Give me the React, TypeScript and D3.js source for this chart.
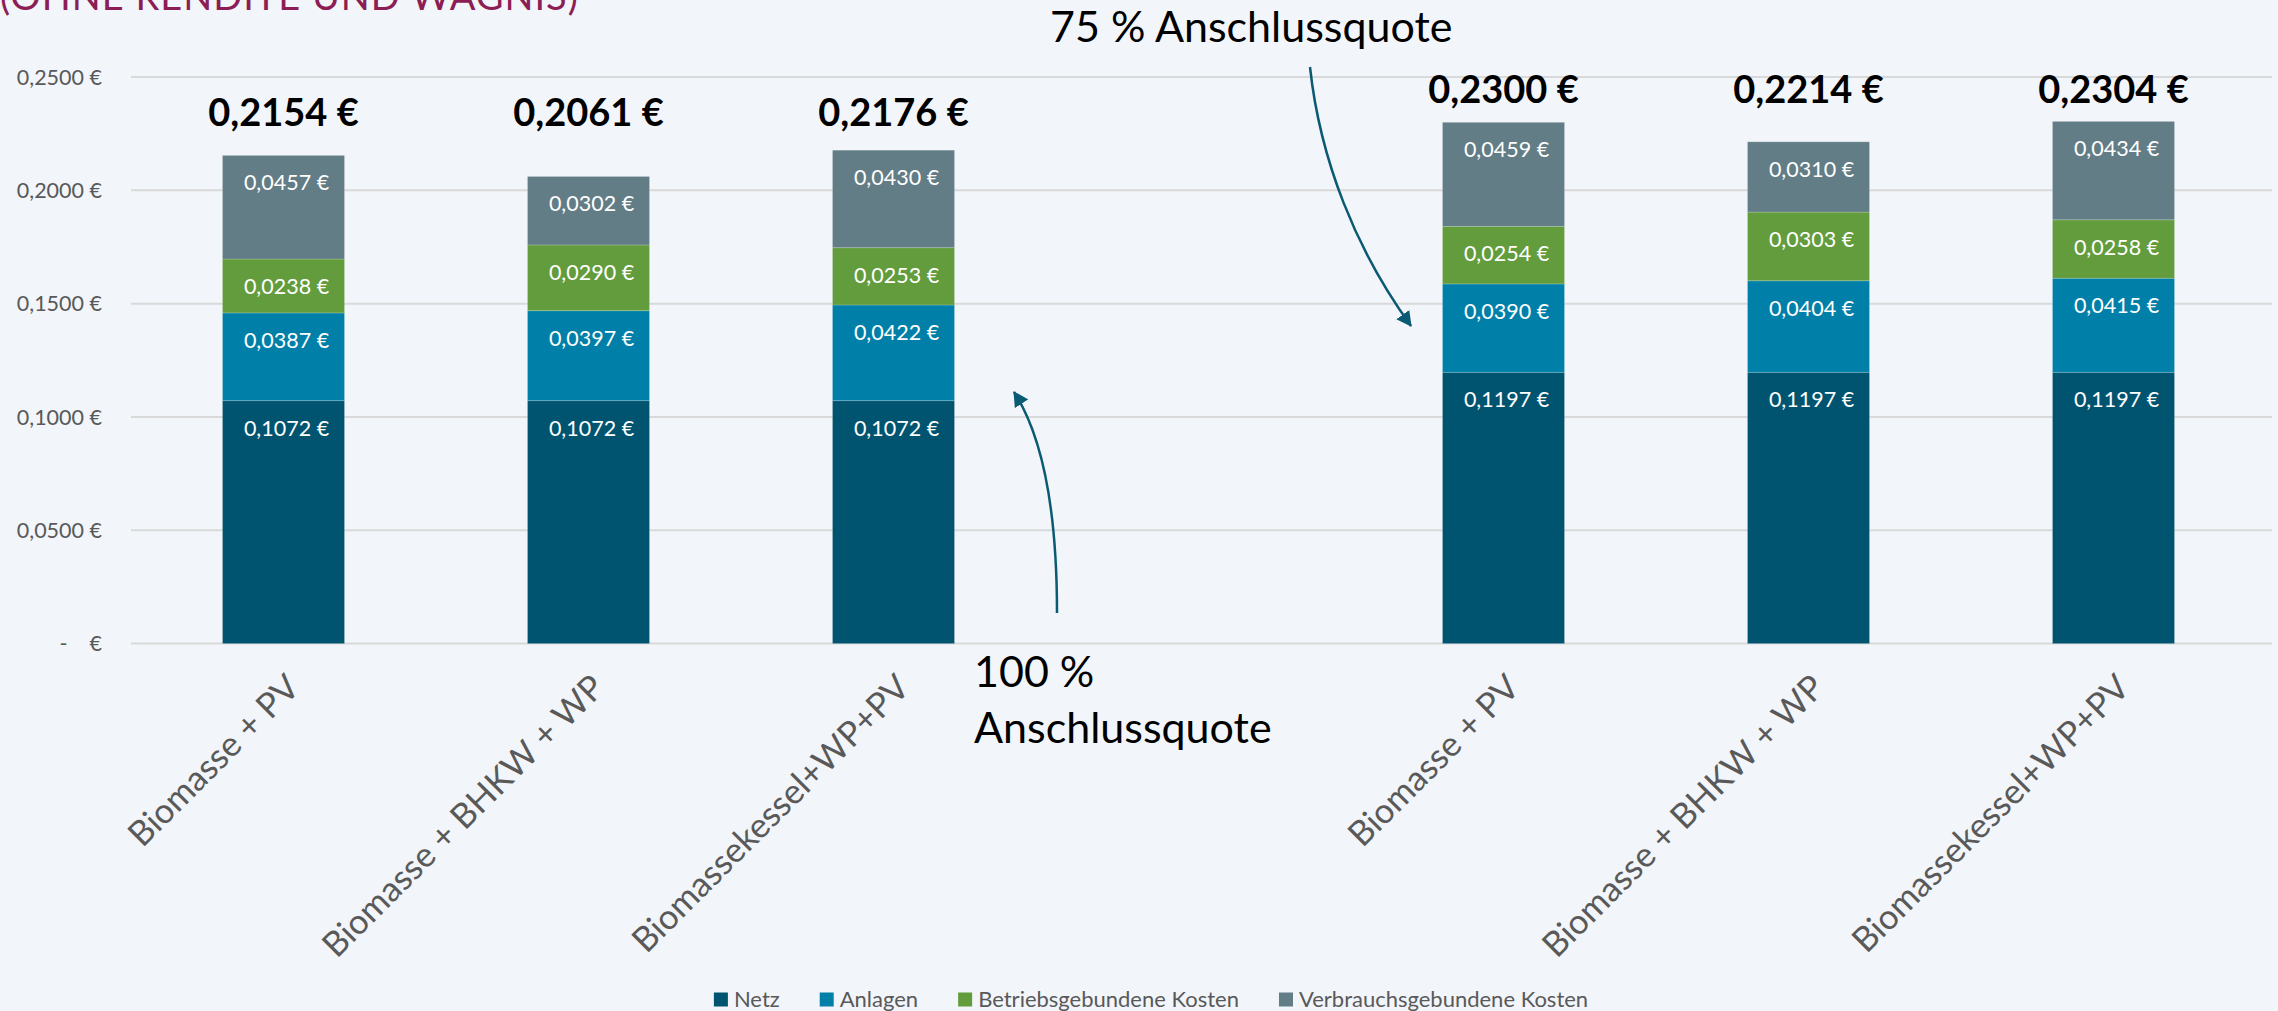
import React, { useEffect, useRef } from "react";
import * as d3 from "d3";

// ---------- data ----------
const categories = [
  "Biomasse + PV",
  "Biomasse + BHKW + WP",
  "Biomassekessel+WP+PV",
  "",
  "Biomasse + PV",
  "Biomasse + BHKW + WP",
  "Biomassekessel+WP+PV",
];
const groupOfCategory = [0, 0, 0, -1, 1, 1, 1];
const netz = [0.1072, 0.1072, 0.1072, 0, 0.1197, 0.1197, 0.1197];
const anlagen = [0.0387, 0.0397, 0.0422, 0, 0.039, 0.0404, 0.0415];
const betrieb = [0.0238, 0.029, 0.0253, 0, 0.0254, 0.0303, 0.0258];
const verbrauch = [0.0457, 0.0302, 0.043, 0, 0.0459, 0.031, 0.0434];
const totals = [0.2154, 0.2061, 0.2176, 0, 0.23, 0.2214, 0.2304];
const seriesNames = ["Netz", "Anlagen", "Betriebsgebundene Kosten", "Verbrauchsgebundene Kosten"];
const seriesColors = ["#00546f", "#0080a8", "#639c3c", "#627d86"];
const yTicks = [0, 0.05, 0.1, 0.15, 0.2, 0.25];
const groupNotes = ["100 %|Anschlussquote", "75 % Anschlussquote"];
const titleText = "(OHNE RENDITE UND WAGNIS)";

const W = 2278;
const H = 1011;
const FONT = "Lato, 'Open Sans', sans-serif";

const fmtEuro = (v: number) =>
  v === 0 ? "-    €" : v.toFixed(4).replace(".", ",") + " €";

export default function App() {
  const ref = useRef<SVGSVGElement>(null);

  useEffect(() => {
    document.body.style.margin = "0";
    document.body.style.overflow = "hidden";
    const svg = d3.select(ref.current);
    svg.selectAll("*").remove();

    svg.append("rect").attr("width", W).attr("height", H).attr("fill", "#f2f5f9");

    const x = d3
      .scaleBand<string>()
      .domain(categories.map((_, i) => String(i)))
      .range([131, 2266])
      .paddingInner(0.6)
      .paddingOuter(0.3);
    const y = d3.scaleLinear().domain([0, 0.25]).range([643.6, 77]);
    const bw = x.bandwidth();

    // title (cut off at top, as in the source slide)
    svg
      .append("text")
      .attr("x", 0)
      .attr("y", 10)
      .attr("font-family", FONT)
      .attr("font-size", 38)
      .attr("letter-spacing", 1)
      .attr("fill", "#8c1d55")
      .text(titleText);

    // grid
    const grid = svg.append("g");
    grid
      .selectAll("line")
      .data(yTicks)
      .join("line")
      .attr("x1", x.range()[0])
      .attr("x2", x.range()[1] + 6)
      .attr("y1", (d) => y(d))
      .attr("y2", (d) => y(d))
      .attr("stroke", "#d9d9d9")
      .attr("stroke-width", 2);

    grid
      .selectAll("text")
      .data(yTicks)
      .join("text")
      .attr("x", 102)
      .attr("y", (d) => y(d))
      .attr("dy", "0.36em")
      .attr("text-anchor", "end")
      .attr("font-family", FONT)
      .attr("font-size", 21.5)
      .attr("fill", "#595959")
      .style("white-space", "pre")
      .text((d) => fmtEuro(d));

    // stacked bars
    const rows = categories.map((c, i) => ({
      key: String(i),
      cat: c,
      s0: netz[i],
      s1: anlagen[i],
      s2: betrieb[i],
      s3: verbrauch[i],
    }));
    const stack = d3.stack<any>().keys(["s0", "s1", "s2", "s3"]);
    const series = stack(rows);

    const barsG = svg.append("g");
    series.forEach((s, si) => {
      const g = barsG.append("g");
      const pts = s.filter((d: any) => groupOfCategory[Number(d.data.key)] >= 0);
      g.selectAll("rect")
        .data(pts)
        .join("rect")
        .attr("x", (d: any) => x(d.data.key)!)
        .attr("y", (d: any) => y(d[1]))
        .attr("width", bw)
        .attr("height", (d: any) => y(d[0]) - y(d[1]))
        .attr("fill", seriesColors[si])
        .attr("stroke", "#ffffff")
        .attr("stroke-opacity", 0.18)
        .attr("stroke-width", 1);
      g.selectAll("text")
        .data(pts)
        .join("text")
        .attr("x", (d: any) => x(d.data.key)! + bw / 2 + 3)
        .attr("y", (d: any) => y(d[1]) + 35)
        .attr("text-anchor", "middle")
        .attr("font-family", FONT)
        .attr("font-size", 21.5)
        .attr("fill", "#ffffff")
        .text((d: any) => fmtEuro(d[1] - d[0]));
    });

    // totals
    const groupMax = [0, 1].map((g) =>
      d3.max(totals.filter((_, i) => groupOfCategory[i] === g))!
    );
    const groupPad = [24, 18];
    svg
      .append("g")
      .selectAll("text")
      .data(totals.map((t, i) => ({ t, i })).filter((d) => groupOfCategory[d.i] >= 0))
      .join("text")
      .attr("x", (d) => x(String(d.i))! + bw / 2)
      .attr("y", (d) => y(groupMax[groupOfCategory[d.i]]) - groupPad[groupOfCategory[d.i]])
      .attr("text-anchor", "middle")
      .attr("font-family", FONT)
      .attr("font-weight", 700)
      .attr("font-size", 38)
      .attr("fill", "#000000")
      .text((d) => fmtEuro(d.t));

    // category labels
    svg
      .append("g")
      .selectAll("text")
      .data(rows.filter((r) => r.cat !== ""))
      .join("text")
      .attr(
        "transform",
        (d) => `translate(${x(d.key)! + bw / 2 + 18},${y(0) + 46}) rotate(-45)`
      )
      .attr("text-anchor", "end")
      .attr("font-family", FONT)
      .attr("font-size", 34.5)
      .attr("fill", "#595959")
      .text((d) => d.cat);

    // arrows + notes
    const defs = svg.append("defs");
    defs
      .append("marker")
      .attr("id", "ah")
      .attr("viewBox", "0 -8 15 16")
      .attr("refX", 14)
      .attr("refY", 0)
      .attr("markerUnits", "userSpaceOnUse")
      .attr("markerWidth", 15)
      .attr("markerHeight", 16)
      .attr("orient", "auto")
      .append("path")
      .attr("d", "M0,-8L15,0L0,8Z")
      .attr("fill", "#0b5a73");

    const notes = svg.append("g").attr("font-family", FONT).attr("fill", "#000");
    svg
      .append("path")
      .attr("d", "M1057,613 C1057,520 1045,440 1014,392")
      .attr("fill", "none")
      .attr("stroke", "#0b5a73")
      .attr("stroke-width", 2.5)
      .attr("marker-end", "url(#ah)");
    svg
      .append("path")
      .attr("d", "M1310,67 C1320,160 1356,250 1411,326")
      .attr("fill", "none")
      .attr("stroke", "#0b5a73")
      .attr("stroke-width", 2.5)
      .attr("marker-end", "url(#ah)");

    const n1 = groupNotes[0].split("|");
    notes
      .append("text")
      .attr("x", 974)
      .attr("y", 687)
      .attr("font-size", 43)
      .text(n1[0]);
    notes
      .append("text")
      .attr("x", 974)
      .attr("y", 743)
      .attr("font-size", 43)
      .text(n1[1]);
    notes
      .append("text")
      .attr("x", 1050)
      .attr("y", 42)
      .attr("font-size", 43)
      .text(groupNotes[1]);

    // legend
    const lg = svg.append("g").attr("font-family", FONT).attr("font-size", 22).attr("fill", "#595959");
    const items = seriesNames.map((name, i) => {
      const g = lg.append("g");
      g.append("rect").attr("width", 14).attr("height", 14).attr("y", -14).attr("fill", seriesColors[i]);
      const t = g.append("text").attr("x", 20).attr("y", 0).text(name);
      const w = 20 + (t.node() as SVGTextElement).getComputedTextLength();
      return { g, w };
    });
    const gap = 40;
    const total = d3.sum(items, (d) => d.w) + gap * (items.length - 1);
    let cx = 1151 - total / 2;
    items.forEach((it) => {
      it.g.attr("transform", `translate(${cx},1006.5)`);
      cx += it.w + gap;
    });
  }, []);

  return (
    <svg
      ref={ref}
      width={W}
      height={H}
      style={{ display: "block", position: "absolute", left: 0, top: 0 }}
    />
  );
}
